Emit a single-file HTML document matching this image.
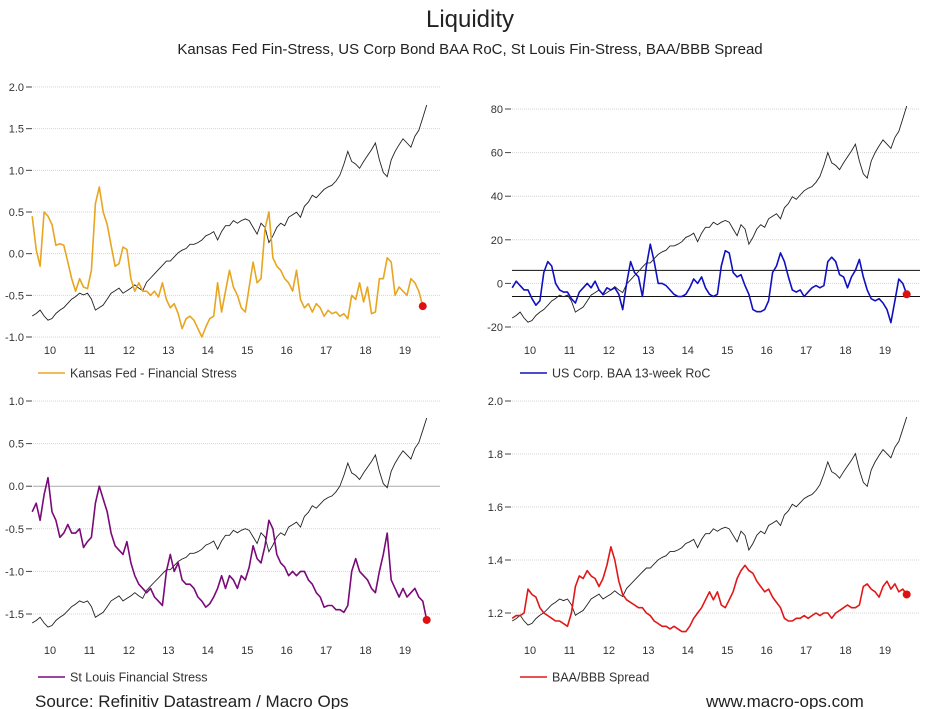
<!DOCTYPE html>
<html><head><meta charset="utf-8"><style>
body{margin:0;background:#fff;}
svg{display:block;font-family:"Liberation Sans",Arial,sans-serif;}
</style></head><body>
<svg id="c" width="940" height="709" viewBox="0 0 940 709">
<text x="470" y="27" text-anchor="middle" font-size="24" fill="#222">Liquidity</text>
<text x="470" y="54" text-anchor="middle" font-size="15" fill="#222">Kansas Fed Fin-Stress, US Corp Bond BAA RoC, St Louis Fin-Stress, BAA/BBB Spread</text>
<text x="35" y="707" font-size="17" fill="#222">Source: Refinitiv Datastream / Macro Ops</text>
<text x="706" y="707" font-size="17" fill="#222">www.macro-ops.com</text>
</svg>
<script>
const years = ["10","11","12","13","14","15","16","17","18","19"];
const tStart = 2009.55, tStep = 0.1;
const equity = [-0.75,-0.72,-0.68,-0.75,-0.8,-0.78,-0.72,-0.68,-0.65,-0.6,-0.55,-0.52,-0.48,-0.5,-0.48,-0.55,-0.68,-0.65,-0.62,-0.55,-0.48,-0.45,-0.42,-0.48,-0.45,-0.42,-0.38,-0.42,-0.45,-0.35,-0.3,-0.25,-0.2,-0.15,-0.1,-0.1,-0.05,0.0,0.03,0.05,0.1,0.1,0.12,0.15,0.2,0.22,0.25,0.15,0.25,0.32,0.32,0.38,0.35,0.38,0.4,0.38,0.3,0.22,0.35,0.3,0.12,0.2,0.3,0.35,0.32,0.42,0.45,0.48,0.42,0.55,0.6,0.68,0.65,0.7,0.75,0.78,0.8,0.85,0.92,1.05,1.2,1.08,1.05,1.0,1.08,1.15,1.22,1.3,1.1,0.95,0.9,1.1,1.2,1.28,1.35,1.3,1.25,1.38,1.45,1.6,1.75];
const kansas = [0.45,0.05,-0.15,0.5,0.45,0.35,0.1,0.12,0.1,-0.1,-0.3,-0.45,-0.3,-0.4,-0.42,-0.2,0.6,0.8,0.5,0.35,0.1,-0.15,-0.12,0.08,0.05,-0.3,-0.45,-0.35,-0.45,-0.45,-0.5,-0.45,-0.52,-0.35,-0.55,-0.65,-0.6,-0.72,-0.9,-0.78,-0.75,-0.8,-0.9,-1.0,-0.88,-0.78,-0.75,-0.35,-0.7,-0.45,-0.2,-0.4,-0.5,-0.65,-0.7,-0.4,-0.1,-0.35,-0.3,0.3,0.5,-0.05,-0.15,-0.2,-0.3,-0.35,-0.45,-0.2,-0.55,-0.65,-0.6,-0.7,-0.6,-0.65,-0.75,-0.68,-0.72,-0.7,-0.75,-0.72,-0.78,-0.5,-0.55,-0.35,-0.58,-0.4,-0.72,-0.7,-0.3,-0.3,-0.05,-0.1,-0.5,-0.4,-0.45,-0.5,-0.3,-0.35,-0.45,-0.63];
const baaRoc = [-2,1,-1,-3,-3,-7,-10,-8,5,10,8,0,-3,-4,-4,-7,-9,-4,-2,0,-2,1,-3,-5,-2,-3,-2,-5,-12,0,10,5,3,-6,8,18,10,0,0,-1,-3,-5,-6,-6,-5,-2,2,0,3,-2,-5,-6,-5,8,15,14,5,3,4,-1,-5,-12,-13,-13,-12,-8,5,8,14,10,3,-3,-4,-3,-6,-4,-2,-1,-2,-1,10,12,10,4,3,-2,3,6,11,3,-3,-7,-8,-7,-9,-12,-18,-8,2,0,-5];
const stlouis = [-0.3,-0.2,-0.4,-0.1,0.1,-0.3,-0.4,-0.6,-0.55,-0.45,-0.55,-0.55,-0.5,-0.72,-0.65,-0.6,-0.2,0.0,-0.15,-0.3,-0.55,-0.7,-0.75,-0.8,-0.65,-0.9,-1.05,-1.15,-1.2,-1.25,-1.2,-1.3,-1.35,-1.4,-1.0,-0.8,-1.0,-0.9,-1.1,-1.15,-1.15,-1.2,-1.3,-1.35,-1.42,-1.38,-1.3,-1.2,-1.05,-1.2,-1.05,-1.1,-1.2,-1.05,-1.1,-0.95,-0.7,-0.85,-0.9,-0.7,-0.4,-0.5,-0.8,-0.9,-0.95,-1.05,-1.0,-1.05,-1.0,-1.0,-1.1,-1.15,-1.25,-1.3,-1.42,-1.4,-1.4,-1.45,-1.45,-1.48,-1.4,-1.0,-0.85,-1.0,-1.05,-1.1,-1.2,-1.25,-1.0,-0.8,-0.55,-1.1,-1.2,-1.3,-1.2,-1.3,-1.25,-1.2,-1.3,-1.35,-1.57];
const spread = [1.18,1.19,1.19,1.2,1.29,1.27,1.26,1.22,1.2,1.19,1.18,1.17,1.17,1.16,1.15,1.2,1.3,1.34,1.33,1.36,1.34,1.33,1.3,1.33,1.38,1.45,1.4,1.32,1.27,1.25,1.24,1.23,1.22,1.22,1.2,1.19,1.17,1.16,1.15,1.15,1.14,1.15,1.14,1.13,1.13,1.15,1.18,1.2,1.22,1.25,1.28,1.25,1.28,1.23,1.22,1.25,1.28,1.33,1.36,1.38,1.36,1.35,1.32,1.3,1.28,1.29,1.26,1.24,1.22,1.18,1.17,1.17,1.18,1.18,1.19,1.18,1.19,1.2,1.19,1.2,1.2,1.18,1.2,1.21,1.22,1.23,1.22,1.22,1.23,1.3,1.31,1.29,1.28,1.26,1.3,1.32,1.29,1.31,1.28,1.29,1.27];
const ticks1 = ["2.0","1.5","1.0","0.5","0.0","-0.5","-1.0"];
const ticks2 = ["80","60","40","20","0","-20"];
const ticks3 = ["1.0","0.5","0.0","-0.5","-1.0","-1.5"];
const ticks4 = ["2.0","1.8","1.6","1.4","1.2"];
const bands2 = [6,-6];

const NS="http://www.w3.org/2000/svg";
const svg=document.getElementById('c');
function mk(tag,attrs,parent){const e=document.createElementNS(NS,tag);for(const k in attrs)e.setAttribute(k,attrs[k]);(parent||svg).appendChild(e);return e;}

function panel(cfg){
  const g=mk('g',{});
  
  
  const xs=t=>cfg.x10+(t-2010)*(cfg.x19-cfg.x10)/9;
  const ys=v=>cfg.yTop+(cfg.vTop-v)/(cfg.vTop-cfg.vBot)*(cfg.yBot-cfg.yTop);
  cfg.ticks.forEach(s=>{
    const v=parseFloat(s), y=ys(v);
    const gl=mk('line',{x1:cfg.gx0,x2:cfg.gx1,y1:y,y2:y,stroke:(cfg.zeroSolid&&v===0)?'#aaa':'#d4d4d4','stroke-dasharray':(cfg.zeroSolid&&v===0)?'':'1,1'},g);
    
    
    const tk=mk('line',{x1:cfg.gx0-7,x2:cfg.gx0-1,y1:y,y2:y,stroke:'#444'},g);
    
    
    const tx=mk('text',{x:cfg.gx0-9,y:y+4,'text-anchor':'end','font-size':11,fill:'#333'},g);
    tx.textContent=s;
    
    
  });
  (cfg.bands||[]).forEach(b=>{
    const bl=mk('line',{x1:cfg.gx0,x2:cfg.gx1,y1:ys(b),y2:ys(b),stroke:'#111','stroke-width':1},g);
    
    
  });
  years.forEach((yr,i)=>{
    const tx=mk('text',{x:xs(2010+i),y:cfg.xLabY,'text-anchor':'middle','font-size':11,fill:'#333'},g);
    tx.textContent=yr;
    
    
  });
  // equity overlay
  const eMin=equity[0], eMax=equity[equity.length-1];
  const ey=v=>cfg.eb0+(v-eMin)/(eMax-eMin)*(cfg.eb1-cfg.eb0);
  const ep=mk('path',{d:equity.map((v,i)=>(i?'L':'M')+xs(tStart+i*tStep).toFixed(1)+','+ey(v).toFixed(1)).join(''),fill:'none',stroke:'#222','stroke-width':0.9},g);
  
  
  const d=cfg.data;
  const sp=mk('path',{d:d.map((v,i)=>(i?'L':'M')+xs(tStart+i*tStep).toFixed(1)+','+ys(v).toFixed(1)).join(''),fill:'none',stroke:cfg.color,'stroke-width':1.6,'stroke-linejoin':'round'},g);
  
  
  const li=d.length-1;
  const dot=mk('circle',{cx:xs(tStart+li*tStep),cy:ys(d[li]),r:4,fill:'#e01010'},g);
  
  
  const ll=mk('line',{x1:cfg.legX,x2:cfg.legX+27,y1:cfg.legY,y2:cfg.legY,stroke:cfg.color,'stroke-width':1.6},g);
  
  
  const lt=mk('text',{x:cfg.legX+32,y:cfg.legY+4.5,'font-size':12.5,fill:'#333'},g);
  lt.textContent=cfg.legend;
  
  
}

panel({name:'kansas-fed-panel',seriesName:'kansas-fed-line',data:kansas,ticks:ticks1,color:'#e8a520',x10:50,x19:405,gx0:33,gx1:440,yTop:87,yBot:337,vTop:2,vBot:-1,xLabY:354,eb0:316,eb1:105,legX:38,legY:373,legend:'Kansas Fed - Financial Stress'});
panel({name:'baa-roc-panel',seriesName:'baa-roc-line',data:baaRoc,ticks:ticks2,bands:bands2,color:'#1010c0',x10:530,x19:885,gx0:512,gx1:920,yTop:109,yBot:327,vTop:80,vBot:-20,xLabY:354,eb0:318,eb1:106,legX:520,legY:373,legend:'US Corp. BAA 13-week RoC'});
panel({name:'st-louis-panel',seriesName:'st-louis-line',data:stlouis,ticks:ticks3,zeroSolid:true,color:'#7a0a7a',x10:50,x19:405,gx0:33,gx1:440,yTop:401,yBot:614,vTop:1,vBot:-1.5,xLabY:654,eb0:623,eb1:418,legX:38,legY:677,legend:'St Louis Financial Stress'});
panel({name:'baa-bbb-spread-panel',seriesName:'baa-bbb-spread-line',data:spread,ticks:ticks4,color:'#e01818',x10:530,x19:885,gx0:512,gx1:920,yTop:401,yBot:613,vTop:2,vBot:1.2,xLabY:654,eb0:621,eb1:417,legX:520,legY:677,legend:'BAA/BBB Spread'});
</script>
</body></html>
